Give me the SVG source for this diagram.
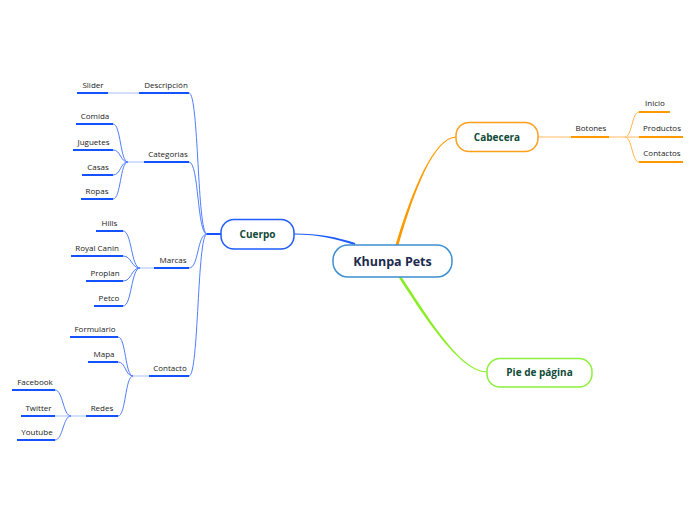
<svg xmlns="http://www.w3.org/2000/svg" width="696" height="520" viewBox="0 0 696 520">
<style>
.cb{fill:none;stroke:#4f7dff;stroke-width:1}
.ub{stroke:#1452ff;stroke-width:2}
.lb{stroke:#a9bfff;stroke-width:1}
.co{fill:none;stroke:#ffb347;stroke-width:1}
.uo{stroke:#ff9900;stroke-width:2}
.lo{stroke:#ffddb0;stroke-width:2}
.t{font-family:"Open Sans","DejaVu Sans",sans-serif;font-size:8px;fill:#222;text-anchor:middle}
.mt{font-family:"Open Sans","DejaVu Sans",sans-serif;font-size:10px;font-weight:bold;fill:#114a38;text-anchor:middle}
.node{fill:#fff;stroke-width:1.5}
</style>
<rect width="696" height="520" fill="#fff"/>
<g id="connectors">
  <path d="M395.5,245 C412.8,188 433.8,137.5 456,136.5 L456,137.5 C434.2,138.6 415.2,188 398.5,245 Z" fill="#ff9900"/>
  <path d="M398.5,277 C423.5,315.5 459.8,372.5 487,372.5 L487,371.5 C460.2,371.5 426.5,314.5 401.5,277 Z" fill="#88ee22"/>
  <path d="M294,233.5 C320,233.5 335.5,237 355.3,243 L354.7,245 C334.5,239 320,234.5 294,234.5 Z" fill="#1f5cff"/>
  <line class="ub" x1="207" y1="234" x2="221" y2="234"/>
  <path class="cb" d="M189,93 C199,93 197,234 207,234"/>
  <path class="cb" d="M189,162 C199,162 197,234 207,234"/>
  <path class="cb" d="M189,268 C199,268 197,234 207,234"/>
  <path class="cb" d="M189,376 C199,376 197,234 207,234"/>
  <line class="lb" x1="108" y1="93" x2="139" y2="93"/>
  <line class="lb" x1="128" y1="162" x2="144" y2="162"/>
  <path class="cb" d="M113,124 C121,124 120,162 128,162"/>
  <path class="cb" d="M113,150 C121,150 120,162 128,162"/>
  <path class="cb" d="M113,175 C121,175 120,162 128,162"/>
  <path class="cb" d="M113,199 C121,199 120,162 128,162"/>
  <line class="lb" x1="140" y1="268" x2="154" y2="268"/>
  <path class="cb" d="M123,231 C132,231 131,268 140,268"/>
  <path class="cb" d="M123,256 C132,256 131,268 140,268"/>
  <path class="cb" d="M123,281 C132,281 131,268 140,268"/>
  <path class="cb" d="M123,306 C132,306 131,268 140,268"/>
  <line class="lb" x1="133" y1="376" x2="149" y2="376"/>
  <path class="cb" d="M118,337 C126,337 125,376 133,376"/>
  <path class="cb" d="M118,362 C126,362 125,376 133,376"/>
  <path class="cb" d="M118,416 C126,416 125,376 133,376"/>
  <line class="lb" x1="55" y1="416" x2="86" y2="416"/>
  <path class="cb" d="M55,390 C63,390 63,416 71,416"/>
  <path class="cb" d="M55,440 C63,440 63,416 71,416"/>
  <line class="lo" x1="538" y1="137" x2="571" y2="137"/>
  <line class="lo" x1="609" y1="137" x2="625" y2="137"/>
  <path class="co" d="M625,137 C632,137 632,112 639,112"/>
  <line class="lo" x1="625" y1="137" x2="639" y2="137"/>
  <path class="co" d="M625,137 C632,137 632,162 639,162"/>
</g>
<g id="n-khunpa">
  <rect class="node" x="333" y="245" width="119" height="32" rx="15" stroke="#3d8fd1"/>
  <text x="392.5" y="265.5" style="font-family:'Open Sans','DejaVu Sans',sans-serif;font-size:12.5px;font-weight:bold;fill:#1c2b4d" text-anchor="middle">Khunpa Pets</text>
</g>
<g id="n-cuerpo">
  <rect class="node" x="221" y="219.5" width="73" height="29.5" rx="13" stroke="#1f5cff"/>
  <text class="mt" x="257.5" y="237.8">Cuerpo</text>
</g>
<g id="n-cabecera">
  <rect class="node" x="456" y="122.5" width="82" height="29" rx="13" stroke="#ff9f1a"/>
  <text class="mt" x="497" y="140.6">Cabecera</text>
</g>
<g id="n-pie">
  <rect class="node" x="487" y="358.5" width="105" height="28.5" rx="13" stroke="#8cf03c"/>
  <text class="mt" x="539.5" y="376.3">Pie de página</text>
</g>
<g id="n-botones"><line class="uo" x1="571" y1="137" x2="609" y2="137"/><text class="t" x="591" y="131">Botones</text></g>
<g id="n-inicio"><line class="uo" x1="639" y1="112" x2="670" y2="112"/><text class="t" x="655" y="106">Inicio</text></g>
<g id="n-productos"><line class="uo" x1="639" y1="137" x2="683" y2="137"/><text class="t" x="662" y="131">Productos</text></g>
<g id="n-contactos"><line class="uo" x1="639" y1="162" x2="683" y2="162"/><text class="t" x="662" y="156">Contactos</text></g>
<g id="n-descripcion"><line class="ub" x1="139" y1="93" x2="189" y2="93"/><text class="t" x="166" y="87.5">Descripción</text></g>
<g id="n-slider"><line class="ub" x1="77" y1="93" x2="108" y2="93"/><text class="t" x="93" y="87.5">Slider</text></g>
<g id="n-categorias"><line class="ub" x1="144" y1="162" x2="189" y2="162"/><text class="t" x="168" y="156.5">Categorias</text></g>
<g id="n-comida"><line class="ub" x1="76" y1="124" x2="113" y2="124"/><text class="t" x="95" y="118.5">Comida</text></g>
<g id="n-juguetes"><line class="ub" x1="73" y1="150" x2="113" y2="150"/><text class="t" x="93.5" y="144.5">Juguetes</text></g>
<g id="n-casas"><line class="ub" x1="82" y1="175" x2="113" y2="175"/><text class="t" x="98" y="169.5">Casas</text></g>
<g id="n-ropas"><line class="ub" x1="81" y1="199" x2="113" y2="199"/><text class="t" x="97" y="193.5">Ropas</text></g>
<g id="n-marcas"><line class="ub" x1="154" y1="268" x2="189" y2="268"/><text class="t" x="173" y="262.5">Marcas</text></g>
<g id="n-hills"><line class="ub" x1="96" y1="231" x2="123" y2="231"/><text class="t" x="109.5" y="225.5">Hills</text></g>
<g id="n-royal"><line class="ub" x1="71" y1="256" x2="123" y2="256"/><text class="t" x="97" y="250.5">Royal Canin</text></g>
<g id="n-proplan"><line class="ub" x1="86" y1="281" x2="123" y2="281"/><text class="t" x="105" y="275.5">Proplan</text></g>
<g id="n-petco"><line class="ub" x1="94" y1="306" x2="123" y2="306"/><text class="t" x="109" y="300.5">Petco</text></g>
<g id="n-contacto"><line class="ub" x1="149" y1="376" x2="189" y2="376"/><text class="t" x="170" y="370.5">Contacto</text></g>
<g id="n-formulario"><line class="ub" x1="70" y1="337" x2="118" y2="337"/><text class="t" x="95" y="331.5">Formulario</text></g>
<g id="n-mapa"><line class="ub" x1="88" y1="362" x2="118" y2="362"/><text class="t" x="104" y="356.5">Mapa</text></g>
<g id="n-redes"><line class="ub" x1="86" y1="416" x2="118" y2="416"/><text class="t" x="102" y="410.5">Redes</text></g>
<g id="n-facebook"><line class="ub" x1="12" y1="390" x2="55" y2="390"/><text class="t" x="35" y="384.5">Facebook</text></g>
<g id="n-twitter"><line class="ub" x1="21" y1="416" x2="55" y2="416"/><text class="t" x="38.5" y="410.5">Twitter</text></g>
<g id="n-youtube"><line class="ub" x1="17" y1="440" x2="55" y2="440"/><text class="t" x="37" y="434.5">Youtube</text></g>
</svg>
